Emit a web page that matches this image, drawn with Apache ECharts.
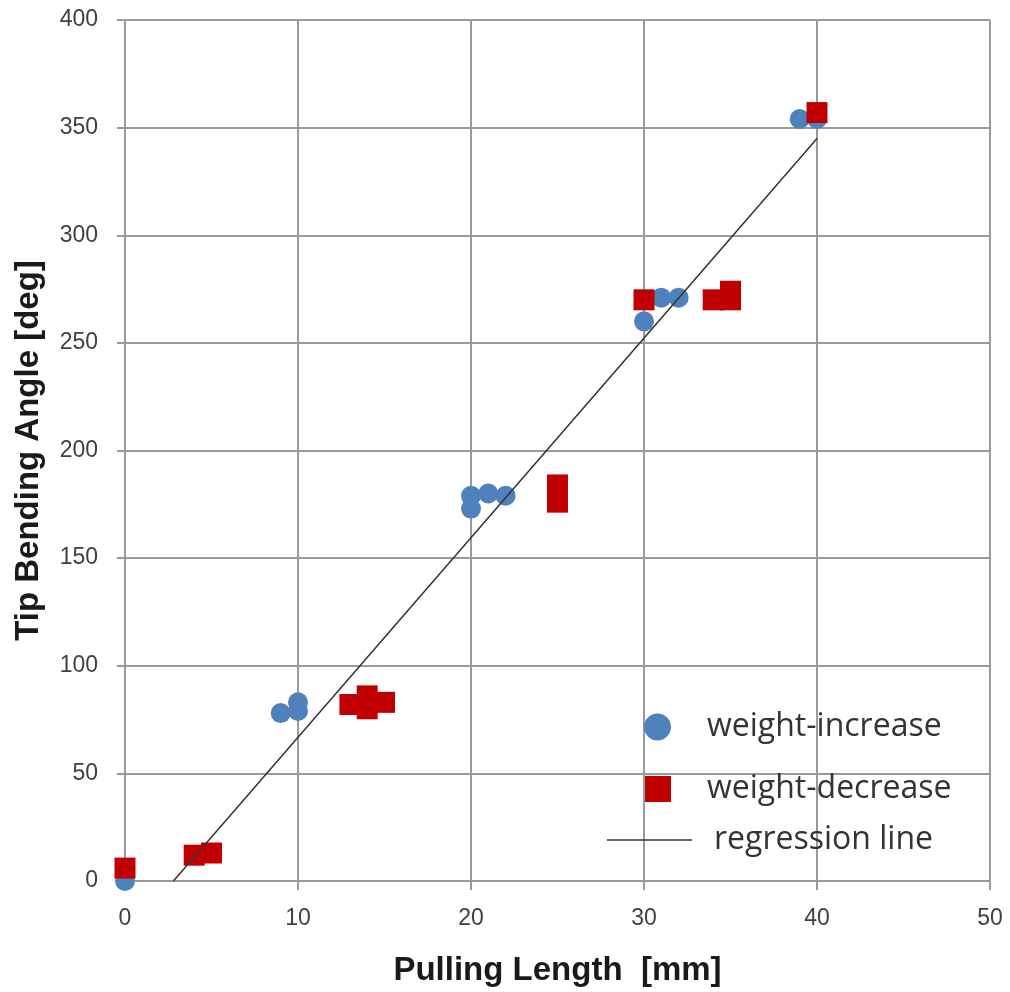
<!DOCTYPE html>
<html>
<head>
<meta charset="utf-8">
<script src="https://cdn.jsdelivr.net/npm/echarts@6/dist/echarts.min.js"></script>
<style>
  html, body { margin: 0; padding: 0; background: #fff; }
  #chart { width: 1010px; height: 992px; }
</style>
</head>
<body>
<div id="chart"></div>
<script>
// weight-increase points [pulling length, angle]
const increaseX = [0, 9, 10, 10, 20, 20, 21, 22, 30, 31, 32, 39, 40];
const increaseY = [0, 78, 79, 83, 179, 173, 180, 179, 260, 271, 271, 354, 354];

// weight-decrease points
const decreaseX = [0, 4, 5, 13, 14, 14, 15, 25, 25, 30, 34, 35, 35, 40];
const decreaseY = [6, 12, 13, 82, 86, 80, 83, 184, 176, 270, 270, 270, 274, 357];

// regression line end points
const regX = [2.8, 40];
const regY = [0, 345];

const xTicks = { min: 0, max: 50, interval: 10 };
const yTicks = { min: 0, max: 400, interval: 50 };

const pairs = (xs, ys) => xs.map((x, i) => [x, ys[i]]);

const chart = echarts.init(document.getElementById("chart"));

const gridGray = "#9a9a9a";
const labelFont = { fontFamily: "Liberation Sans", fontSize: 23, color: "#404040" };
const nameFont = { fontFamily: "Liberation Sans", fontSize: 33, fontWeight: "bold", color: "#1a1a1a" };
const legendText = { fontFamily: "Open Sans", fontSize: 32, color: "#333" };

chart.setOption({
  animation: false,
  backgroundColor: "#fff",
  grid: { left: 125, right: 20, top: 20, bottom: 110 },
  xAxis: {
    type: "value",
    min: xTicks.min,
    max: xTicks.max,
    interval: xTicks.interval,
    name: "Pulling Length  [mm]",
    nameLocation: "middle",
    nameGap: 73,
    nameTextStyle: nameFont,
    axisLine: { show: true, lineStyle: { color: gridGray, width: 2 } },
    axisTick: { show: true, length: 9, lineStyle: { color: gridGray, width: 2 } },
    axisLabel: Object.assign({ margin: 26 }, labelFont),
    splitLine: { show: true, lineStyle: { color: gridGray, width: 2 } },
  },
  yAxis: {
    type: "value",
    min: yTicks.min,
    max: yTicks.max,
    interval: yTicks.interval,
    name: "Tip Bending Angle [deg]",
    nameLocation: "middle",
    nameGap: 80,
    nameTextStyle: nameFont,
    axisLine: { show: true, lineStyle: { color: gridGray, width: 2 } },
    axisTick: { show: true, length: 8, lineStyle: { color: gridGray, width: 2 } },
    axisLabel: Object.assign({ margin: 27 }, labelFont),
    splitLine: { show: true, lineStyle: { color: gridGray, width: 2 } },
  },
  legend: [
    {
      data: ["weight-increase"],
      left: 644, top: 711, padding: 0,
      icon: "circle", itemWidth: 27, itemHeight: 27,
      textStyle: Object.assign({ padding: [0, 0, 0, 31] }, legendText),
      selectedMode: false,
    },
    {
      data: ["weight-decrease"],
      left: 645, top: 773, padding: 0,
      icon: "rect", itemWidth: 26, itemHeight: 26,
      textStyle: Object.assign({ padding: [0, 0, 0, 31] }, legendText),
      selectedMode: false,
    },
    {
      data: ["regression line"],
      left: 607, top: 824, padding: 0,
      icon: "path://M0,0H100V1.6H0Z", itemWidth: 85, itemHeight: 14,
      textStyle: Object.assign({ padding: [0, 0, 0, 17] }, legendText),
      selectedMode: false,
    },
  ],
  series: [
    {
      name: "regression line",
      type: "line",
      data: pairs(regX, regY),
      symbol: "none",
      lineStyle: { color: "#333", width: 1.5 },
      itemStyle: { color: "#333" },
      z: 3,
    },
    {
      name: "weight-increase",
      type: "scatter",
      data: pairs(increaseX, increaseY),
      symbol: "circle",
      symbolSize: 20,
      itemStyle: { color: "#4f81bd", opacity: 1 },
      clip: false,
      z: 2,
    },
    {
      name: "weight-decrease",
      type: "scatter",
      data: pairs(decreaseX, decreaseY),
      symbol: "rect",
      symbolSize: 21,
      itemStyle: { color: "#c00000", opacity: 1 },
      clip: false,
      z: 2,
    },
  ],
});
</script>
</body>
</html>
